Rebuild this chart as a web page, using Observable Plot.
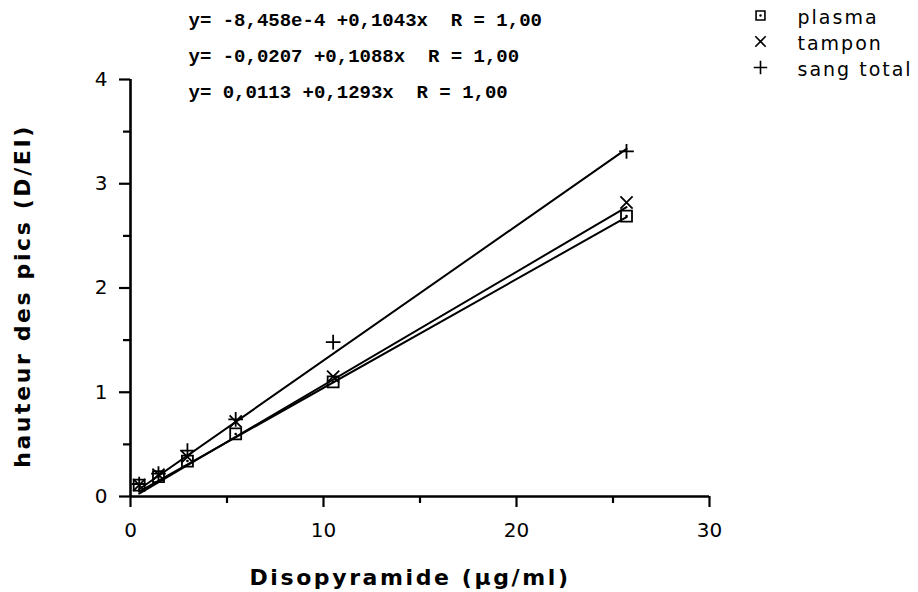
<!DOCTYPE html>
<html><head><meta charset="utf-8">
<script src="https://cdn.jsdelivr.net/npm/d3@7"></script>
<script src="https://cdn.jsdelivr.net/npm/@observablehq/plot@0.6"></script>
<style>body{margin:0;background:#fff}</style>
</head><body><div id="chart"></div>
<script>
// ---- data ----
const series = ["plasma", "tampon", "sang total"];
const concentrations = [0.45, 1.45, 2.95, 5.45, 10.5, 25.7];
const plasma = [0.11, 0.19, 0.34, 0.60, 1.10, 2.69];
const tampon = [0.11, 0.21, 0.38, 0.72, 1.15, 2.82];
const sangTotal = [0.12, 0.22, 0.44, 0.74, 1.48, 3.31];
const intercepts = [-8.458e-4, -0.0207, 0.0113];
const slopes = [0.1043, 0.1088, 0.1293];
const equations = [
  "y= -8,458e-4 +0,1043x  R = 1,00",
  "y= -0,0207 +0,1088x  R = 1,00",
  "y= 0,0113 +0,1293x  R = 1,00"
];
const xTicks = [0, 10, 20, 30];
const xMinorTicks = [5, 15, 25];
const yTicks = [0, 1, 2, 3, 4];
const yMinorTicks = [0.5, 1.5, 2.5, 3.5];
const xTitle = "Disopyramide (µg/ml)";
const yTitle = "hauteur des pics (D/EI)";

// ---- tables built from the arrays ----
const values = [plasma, tampon, sangTotal];
const points = series.flatMap((s, i) => concentrations.map((c, j) => ({series: s, x: c, y: values[i][j]})));
const xEnds = [d3.min(concentrations), d3.max(concentrations)];
const fits = series.flatMap((s, i) => xEnds.map(x => ({series: s, x, y: intercepts[i] + slopes[i] * x})));

// ---- styles ----
const symbols = ["square", "times", "plus"];
const rChart = {"plasma": 6.2, "tampon": 5.6, "sang total": 4.8};
const rLegend = {"plasma": 5, "tampon": 4.8, "sang total": 4.4};

const legendMarks = series.flatMap((s, i) => {
  const m = [Plot.dot([s], {frameAnchor: "top-right", dx: 51, dy: -64 + 26 * i, symbol: d => d, r: d => rLegend[d], stroke: "black", strokeWidth: 1.6, fill: "none"})];
  if (s === "plasma") m.push(Plot.dot([s], {frameAnchor: "top-right", dx: 51, dy: -64 + 26 * i, r: 1.2, fill: "black"}));
  return m;
});

const chart = Plot.plot({
  width: 918,
  height: 592,
  marginLeft: 130,
  marginRight: 209,
  marginTop: 79,
  marginBottom: 96,
  style: {fontFamily: "DejaVu Sans", fontSize: "20px", background: "white", color: "black"},
  x: {domain: [0, 30]},
  y: {domain: [0, 4]},
  r: {type: "identity"},
  symbol: {domain: series, range: symbols},
  marks: [
    Plot.axisX({ticks: xTicks, tickSize: 11, tickPadding: 15, tickFormat: d => String(d), label: null, strokeWidth: 2.2, fontSize: 20}),
    Plot.axisX({ticks: xMinorTicks, tickSize: 7, tickFormat: () => "", label: null, strokeWidth: 2.2}),
    Plot.axisY({ticks: yTicks, tickSize: 11, tickPadding: 12, tickFormat: d => String(d), label: null, strokeWidth: 2.2, fontSize: 20}),
    Plot.axisY({ticks: yMinorTicks, tickSize: 7, tickFormat: () => "", label: null, strokeWidth: 2.2}),
    Plot.ruleY([0], {stroke: "black", strokeWidth: 2.6}),
    Plot.ruleX([0], {stroke: "black", strokeWidth: 2.6}),
    Plot.line(fits, {x: "x", y: "y", z: "series", stroke: "black", strokeWidth: 2}),
    Plot.dot(points, {x: "x", y: "y", symbol: "series", r: d => rChart[d.series], stroke: "black", strokeWidth: 1.8, fill: "none"}),
    Plot.dot(points.filter(d => d.series === "plasma"), {x: "x", y: "y", r: 1.3, fill: "black"}),
    Plot.text([equations.join("\n")], {frameAnchor: "top-left", dx: 58, dy: -29, textAnchor: "start", lineAnchor: "middle", lineHeight: 1.9, fontFamily: "Liberation Mono", fontWeight: "bold", fontSize: 19}),
    ...legendMarks,
    Plot.text([series.join("\n")], {frameAnchor: "top-right", dx: 88, dy: -38, textAnchor: "start", lineAnchor: "middle", lineHeight: 1.37, fontSize: 19}),
    Plot.text([xTitle], {frameAnchor: "bottom", dx: -10, dy: 81, textAnchor: "middle", lineAnchor: "middle", fontWeight: "bold", fontSize: 22}),
    Plot.text([yTitle], {frameAnchor: "left", dx: -108, dy: 8, textAnchor: "middle", lineAnchor: "middle", rotate: -90, fontWeight: "bold", fontSize: 22})
  ]
});

d3.select(chart).selectAll("text").each(function() {
  const t = this.textContent;
  if (t === xTitle || t === yTitle) this.style.letterSpacing = "2.6px";
  else if (t === series.join("")) this.style.letterSpacing = "2px";
});

document.getElementById("chart").appendChild(chart);
</script>
</body></html>
